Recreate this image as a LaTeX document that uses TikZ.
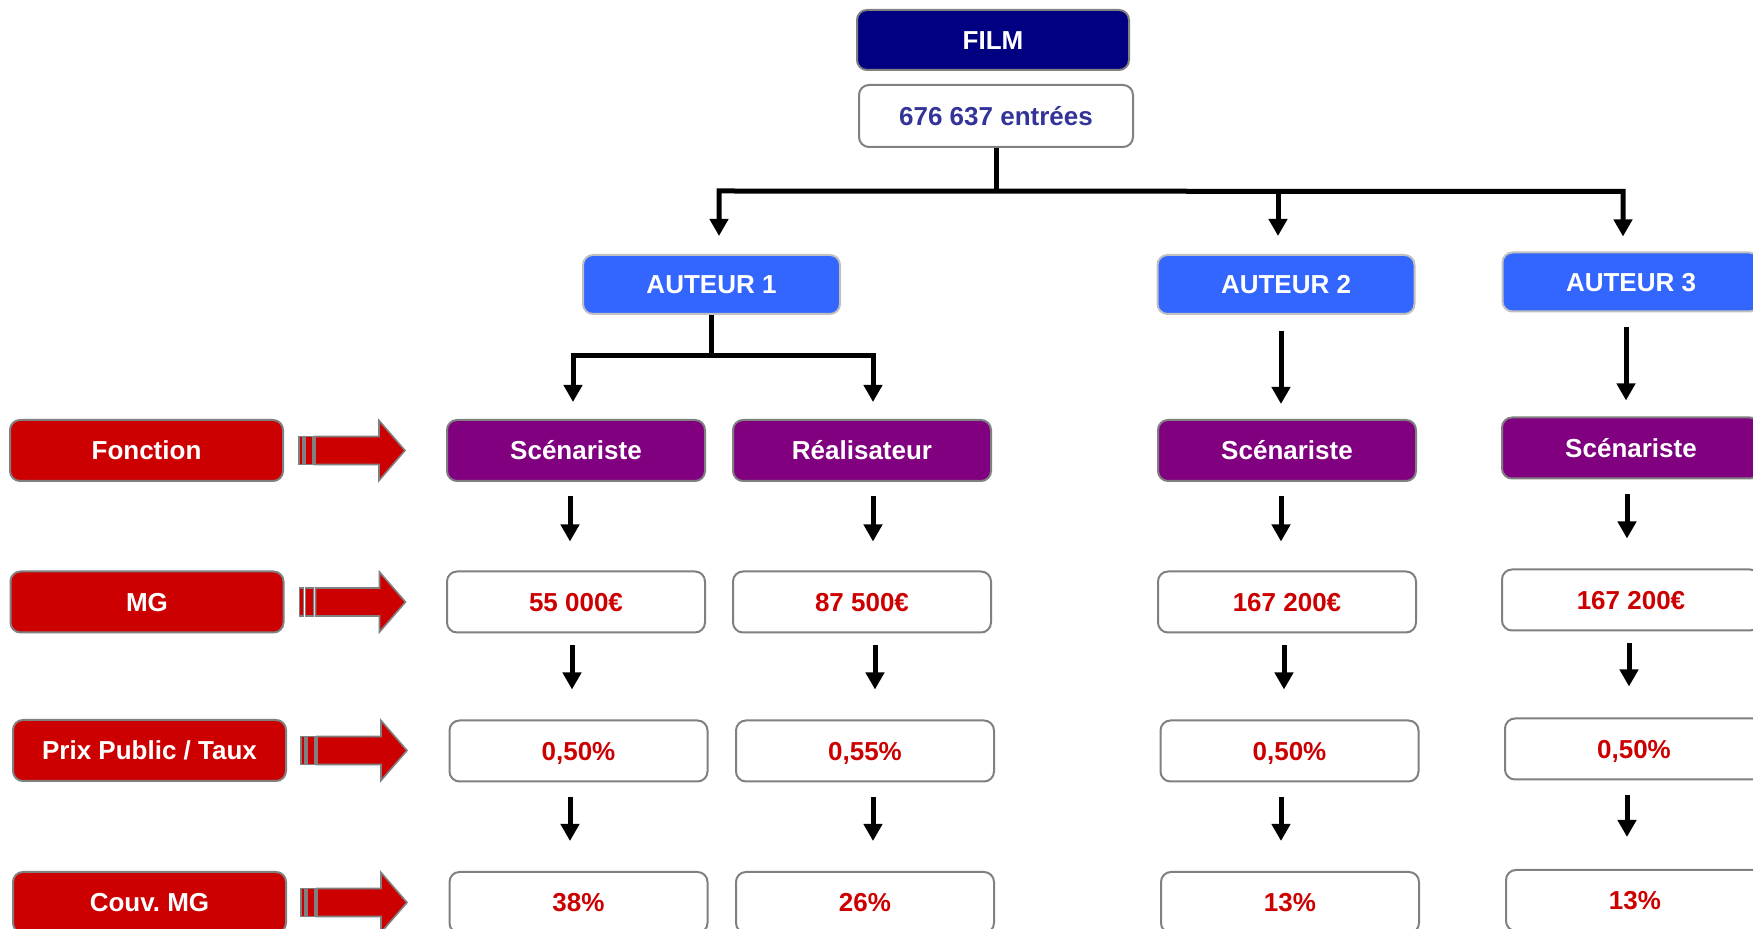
\documentclass[tikz,border=0pt]{standalone}
\usepackage{fontspec}
\setmainfont{Liberation Sans}
\usetikzlibrary{arrows.meta,calc}
\definecolor{navybox}{HTML}{000080}
\definecolor{entreetxt}{HTML}{333399}
\definecolor{auteurblue}{HTML}{3366FF}
\definecolor{purplebox}{HTML}{800080}
\definecolor{redbox}{HTML}{CC0000}
\definecolor{boxgray}{HTML}{808080}
\definecolor{lightgray}{HTML}{C0C0C0}
\frenchspacing
\begin{document}
\begin{tikzpicture}[x=0.5pt,y=-0.5pt,
  base/.style={draw=boxgray, line width=1pt, rounded corners=5pt, inner sep=0pt,
    font=\bfseries\fontsize{13}{15}\selectfont, text height=9.4pt, text depth=0pt,
    minimum width=129pt, minimum height=30.5pt},
  filmbox/.style={base, fill=navybox, text=white, minimum width=136pt, minimum height=30pt},
  countbox/.style={base, fill=white, text=entreetxt, minimum width=137pt, minimum height=31pt},
  authbox/.style={base, draw=lightgray, fill=auteurblue, text=white, minimum width=128.5pt, minimum height=29.5pt},
  rolebox/.style={base, fill=purplebox, text=white},
  valbox/.style={base, fill=white, text=redbox},
  labbox/.style={base, fill=redbox, text=white, minimum width=136.5pt},
  conn/.style={line width=2.5pt, draw=black},
  tipend/.style={-{Triangle[width=9pt,length=8.5pt]}},
  tipboth/.style={{Triangle[width=9pt,length=8.5pt]}-{Triangle[width=9pt,length=8.5pt]}},
  redarr/.pic={
    \draw[draw=boxgray, line width=0.8pt, fill=redbox] (0,-14) rectangle (4,14);
    \draw[draw=boxgray, line width=0.8pt, fill=redbox] (6,-14) rectangle (14,14);
    \draw[draw=boxgray, line width=0.8pt, fill=redbox, line join=miter]
      (16,-14) -- (80,-14) -- (80,-30) -- (106,0) -- (80,30) -- (80,14) -- (16,14) -- cycle;
  }]
\useasboundingbox (0,0) rectangle (1753,929);
\clip (0,0) rectangle (1753,929);

% top
\node[filmbox] (film) at (993,40) {FILM};
\node[countbox] (entrees) at (996,116) {676 637 entrées};

% authors
\node[authbox] (a1) at (711.5,284.5) {AUTEUR 1};
\node[authbox] (a2) at (1286,284.5) {AUTEUR 2};
\node[authbox] (a3) at (1631,282) {AUTEUR 3};

% roles
\node[rolebox] (s1) at (576,450.5) {Scénariste};
\node[rolebox] (r1) at (862,450.5) {Réalisateur};
\node[rolebox] (s2) at (1287,450.5) {Scénariste};
\node[rolebox] (s3) at (1631,448) {Scénariste};

% MG
\node[valbox] (m1) at (576,602) {55 000€};
\node[valbox] (m2) at (862,602) {87 500€};
\node[valbox] (m3) at (1287,602) {167 200€};
\node[valbox] (m4) at (1631,600) {167 200€};

% taux
\node[valbox] (p1) at (578.5,751) {0,50\%};
\node[valbox] (p2) at (865,751) {0,55\%};
\node[valbox] (p3) at (1289.5,751) {0,50\%};
\node[valbox] (p4) at (1634,749) {0,50\%};

% couv
\node[valbox] (c1) at (578.5,902.5) {38\%};
\node[valbox] (c2) at (865,902.5) {26\%};
\node[valbox] (c3) at (1290,902.5) {13\%};
\node[valbox] (c4) at (1635,900.5) {13\%};

% row labels
\node[labbox] (lf) at (146.5,450.5) {Fonction};
\node[labbox] (lm) at (147,602) {MG};
\node[labbox] (lp) at (149.5,750.5) {Prix Public / Taux};
\node[labbox] (lc) at (149.5,902.5) {Couv. MG};

% red arrows
\pic at ($(lf.east)+(15,0)$) {redarr};
\pic at ($(lm.east)+(15,0)$) {redarr};
\pic at ($(lp.east)+(14,0)$) {redarr};
\pic at ($(lc.east)+(14,0)$) {redarr};

% film -> authors
\coordinate (busL) at ($(a1.north)+(7.5,-63)$);
\coordinate (busR) at ($(a3.north)+(-8,-60)$);
\draw[conn] (entrees.south) -- (entrees.south |- busL);
\draw[conn, tipboth, line join=miter] ($(a1.north)+(7.5,-18)$) -- (busL) -- (busR) -- ($(a3.north)+(-8,-15)$);
\draw[conn, tipend] ($(a2.north)+(-8,-63)$) -- ($(a2.north)+(-8,-18)$);

% auteur 1 -> roles
\coordinate (b1L) at ($(s1.north)+(-3,-63)$);
\coordinate (b1R) at ($(r1.north)+(11,-63)$);
\draw[conn] (a1.south) -- (a1.south |- b1L);
\draw[conn, tipboth, line join=miter] ($(s1.north)+(-3,-17)$) -- (b1L) -- (b1R) -- ($(r1.north)+(11,-17)$);

% auteur 2, 3 -> roles
\draw[conn, tipend] ($(a2.south)+(-5,16)$) -- ($(s2.north)+(-6,-15)$);
\draw[conn, tipend] ($(a3.south)+(-5,15)$) -- ($(s3.north)+(-5,-16)$);

% column 1
\draw[conn, tipend] ($(s1.south)+(-6,14)$) -- ($(m1.north)+(-6,-29)$);
\draw[conn, tipend] ($(m1.south)+(-4,12)$) -- ($(p1.north)+(-6.5,-30)$);
\draw[conn, tipend] ($(p1.south)+(-8.5,15)$) -- ($(c1.north)+(-8.5,-30)$);
% column 2
\draw[conn, tipend] ($(r1.south)+(11,14)$) -- ($(m2.north)+(11,-29)$);
\draw[conn, tipend] ($(m2.south)+(13,12)$) -- ($(p2.north)+(10,-30)$);
\draw[conn, tipend] ($(p2.south)+(8,15)$) -- ($(c2.north)+(8,-30)$);
% column 3
\draw[conn, tipend] ($(s2.south)+(-6,14)$) -- ($(m3.north)+(-6,-29)$);
\draw[conn, tipend] ($(m3.south)+(-3,12)$) -- ($(p3.north)+(-5.5,-30)$);
\draw[conn, tipend] ($(p3.south)+(-8.5,15)$) -- ($(c3.north)+(-9,-30)$);
% column 4
\draw[conn, tipend] ($(s3.south)+(-4,15)$) -- ($(m4.north)+(-4,-30)$);
\draw[conn, tipend] ($(m4.south)+(-2,12)$) -- ($(p4.north)+(-5,-31)$);
\draw[conn, tipend] ($(p4.south)+(-7,15)$) -- ($(c4.north)+(-8,-32)$);
\end{tikzpicture}
\end{document}
